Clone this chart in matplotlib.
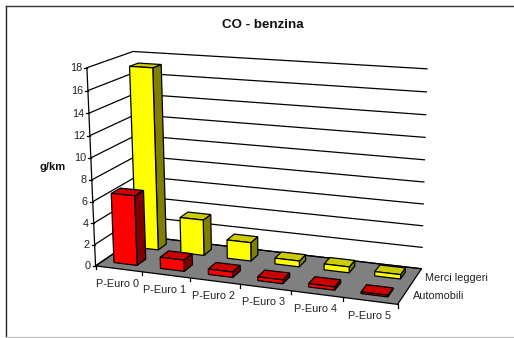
import numpy as np
import matplotlib
matplotlib.use('Agg')
import matplotlib.pyplot as plt

plt.rcParams['font.family'] = ['Liberation Sans', 'DejaVu Sans']

categories = ['P-Euro 0', 'P-Euro 1', 'P-Euro 2', 'P-Euro 3', 'P-Euro 4', 'P-Euro 5']
series_names = ['Automobili', 'Merci leggeri']
automobili = [6.5, 1.05, 0.5, 0.35, 0.3, 0.15]
merci_leggeri = [17.2, 3.4, 1.75, 0.55, 0.55, 0.4]
y_ticks = [0, 2, 4, 6, 8, 10, 12, 14, 16, 18]
Z_MAX = 18.0

W = 514
H = 338
FS = 7.8

# colours: front, top, side
red = ['#ff0000', '#cc0000', '#800000']
yellow = ['#ffff00', '#cccc00', '#808000']

# box corners (x along categories, y depth, z height) -> picture pixels
box = [(0, 0, 0), (1, 0, 0), (1, 1, 0), (0, 1, 0), (0, 0, 1), (0, 1, 1), (1, 1, 1)]
pix = [(96, 266), (397, 305), (422, 268), (139, 236), (87, 67), (133, 52), (427, 69)]

rows = []
for (a, b, c), (u, v) in zip(box, pix):
    rows.append([a, b, c, 1, 0, 0, 0, 0, -u*a, -u*b, -u*c, -u])
    rows.append([0, 0, 0, 0, a, b, c, 1, -v*a, -v*b, -v*c, -v])
P = np.linalg.svd(np.array(rows, dtype=float))[2][-1].reshape(3, 4)


def proj(x, y, z):
    p = P @ np.array([x, y, z / Z_MAX, 1.0])
    return p[0] / p[2], p[1] / p[2]


fig = plt.figure(figsize=(W / 100, H / 100), dpi=100)
ax = fig.add_axes([0, 0, 1, 1])
ax.set_xlim(0, W)
ax.set_ylim(H, 0)
ax.axis('off')

# outer chart frame
ax.plot([6, 6], [6, 336], color='#222222', lw=1.0)
ax.plot([6, W], [6, 6], color='#333333', lw=1.0)
ax.plot([6, W], [336.5, 336.5], color='#c8c8c8', lw=1.0)

# floor
floor = [proj(0, 0, 0), proj(1, 0, 0), proj(1, 1, 0), proj(0, 1, 0)]
ax.fill(*zip(*floor), facecolor='#808080', edgecolor='black', lw=0.9, zorder=1)

# gridlines on both walls, ticks and labels
for t in y_ticks:
    a = proj(0, 0, t)
    b = proj(0, 1, t)
    c = proj(1, 1, t)
    ax.plot([a[0], b[0], c[0]], [a[1], b[1], c[1]], color='black', lw=0.9, zorder=2)
    ax.plot([a[0] - 3, a[0]], [a[1], a[1]], color='black', lw=0.9, zorder=2)
    ax.text(a[0] - 5, a[1] + 0.5, str(t), ha='right', va='center', fontsize=FS, color='#222222')

a = proj(0, 0, 0)
b = proj(0, 0, Z_MAX)
ax.plot([a[0], b[0]], [a[1], b[1]], color='black', lw=0.9, zorder=2)

# x ticks at cell borders
n = len(categories)
for i in range(n + 1):
    a = proj(i / n, 0, 0)
    ax.plot([a[0], a[0]], [a[1], a[1] + 3.5], color='black', lw=0.9, zorder=2)
for i, name in enumerate(categories):
    a = proj((i + 0.5) / n, 0, 0)
    ax.text(a[0] - 1, a[1] + 15, name, ha='center', va='center', fontsize=FS, color='#222222')

# series labels beside the depth edge
for j, name in enumerate(series_names):
    a = proj(1, (j + 0.5) / 2, 0)
    ax.text(a[0] + 9, a[1] + 1, name, ha='left', va='center', fontsize=FS, color='#222222')


def draw_bar(i, j, value, colours, z):
    x0 = (i + 0.25) / n
    x1 = (i + 0.75) / n
    y0 = (j + 0.3) / 2
    y1 = (j + 0.7) / 2
    front = [proj(x0, y0, 0), proj(x1, y0, 0), proj(x1, y0, value), proj(x0, y0, value)]
    top = [proj(x0, y0, value), proj(x1, y0, value), proj(x1, y1, value), proj(x0, y1, value)]
    side = [proj(x1, y0, 0), proj(x1, y1, 0), proj(x1, y1, value), proj(x1, y0, value)]
    ax.fill(*zip(*side), facecolor=colours[2], edgecolor='black', lw=0.9, zorder=z)
    ax.fill(*zip(*top), facecolor=colours[1], edgecolor='black', lw=0.9, zorder=z)
    ax.fill(*zip(*front), facecolor=colours[0], edgecolor='black', lw=0.9, zorder=z)


# back row first so the front row hides it
for i, v in enumerate(merci_leggeri):
    draw_bar(i, 1, v, yellow, 3 + i * 0.01)
for i, v in enumerate(automobili):
    draw_bar(i, 0, v, red, 4 + i * 0.01)

ax.text(263, 25, 'CO - benzina', ha='center', va='center', fontsize=9.6, fontweight='bold', color='#111111')
ax.text(53, 167, 'g/km', ha='center', va='center', fontsize=8, fontweight='bold', color='#111111')

fig.savefig('out.png', dpi=100)
